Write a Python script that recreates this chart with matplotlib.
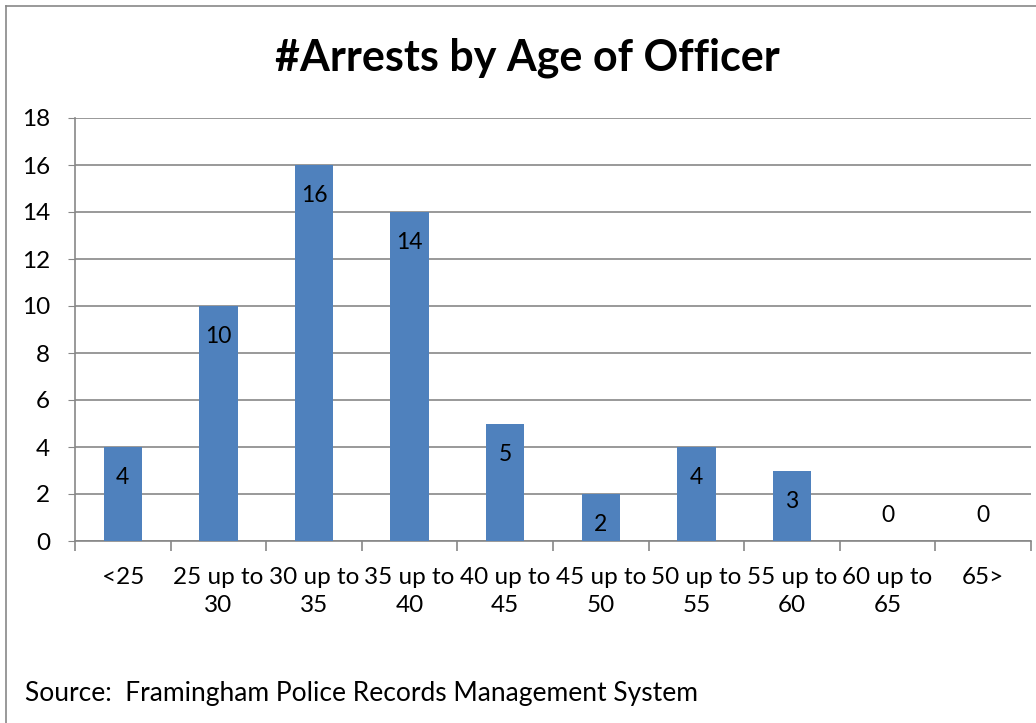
import matplotlib.pyplot as plt
import numpy as np

categories = ["<25", "25 up to\n30", "30 up to\n35", "35 up to\n40", "40 up to\n45",
              "45 up to\n50", "50 up to\n55", "55 up to\n60", "60 up to\n65", "65>"]
arrests = [4, 10, 16, 14, 5, 2, 4, 3, 0, 0]
y_ticks = list(range(0, 19, 2))

plt.rcParams['font.family'] = ['Lato', 'DejaVu Sans']

fig = plt.figure(figsize=(10.36, 7.23), dpi=100)
ax = fig.add_axes([75 / 1036, 1 - 541 / 723, (1031 - 75) / 1036, (541 - 118) / 723])

x = np.arange(len(categories))
ax.bar(x, arrests, width=0.4, color="#4F81BD", zorder=3)
for xi, v in zip(x, arrests):
    ax.text(xi, v - 1.3 if v > 0 else 1.1, str(v), ha="center", va="center",
            fontsize=16.5, color="black", zorder=4)

ax.set_xlim(-0.5, len(categories) - 0.5)
ax.set_ylim(0, 18)
ax.set_yticks(y_ticks)
ax.tick_params(axis="y", labelsize=17.5, length=5, color="#878787", pad=13)
ax.yaxis.grid(True, color="#878787", linewidth=1.2, zorder=0)

ax.set_xticks(x)
ax.set_xticklabels(categories, fontsize=17.5, linespacing=1.4)
ax.tick_params(axis="x", length=0, pad=19)
ax.set_xticks(np.arange(-0.5, len(categories)), minor=True)
ax.tick_params(axis="x", which="minor", length=7, color="#878787", width=1.2)

for side in ["top", "right"]:
    ax.spines[side].set_visible(False)
ax.spines["left"].set_color("#878787")
ax.spines["bottom"].set_color("#878787")
ax.spines["left"].set_linewidth(1.2)
ax.spines["bottom"].set_linewidth(1.2)

fig.text(527 / 1036, 1 - 58 / 723, "#Arrests by Age of Officer", ha="center", va="center",
         fontsize=31, fontweight="bold")
fig.text(25 / 1036, 1 - 693 / 723, "Source:  Framingham Police Records Management System",
         ha="left", va="center", fontsize=19)

# chart border (right and bottom edges are cropped in the original)
fig.add_artist(plt.Line2D([6 / 1036, 6 / 1036], [0, 1 - 6 / 723], color="#878787", lw=1.2))
fig.add_artist(plt.Line2D([6 / 1036, 1], [1 - 6 / 723, 1 - 6 / 723], color="#878787", lw=1.2))

fig.savefig("out.png", dpi=100)
